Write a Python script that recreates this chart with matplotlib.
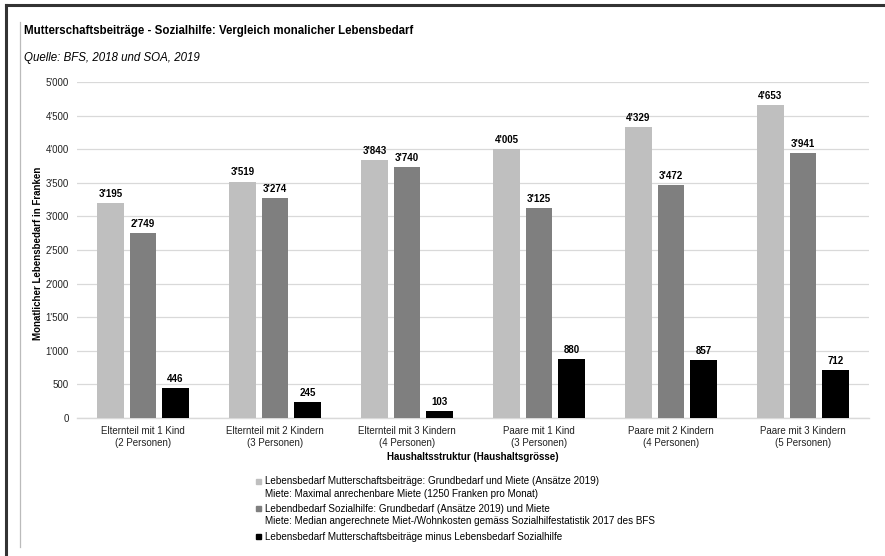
import matplotlib.pyplot as plt
import numpy as np
from matplotlib.patches import Rectangle
from matplotlib.lines import Line2D

plt.rcParams['font.family'] = ['Liberation Sans', 'DejaVu Sans']

categories = [
    "Elternteil mit 1 Kind\n(2 Personen)",
    "Elternteil mit 2 Kindern\n(3 Personen)",
    "Elternteil mit 3 Kindern\n(4 Personen)",
    "Paare mit 1 Kind\n(3 Personen)",
    "Paare mit 2 Kindern\n(4 Personen)",
    "Paare mit 3 Kindern\n(5 Personen)",
]
mutterschaft = [3195, 3519, 3843, 4005, 4329, 4653]
sozialhilfe = [2749, 3274, 3740, 3125, 3472, 3941]
differenz = [446, 245, 103, 880, 857, 712]

series_labels = [
    "Lebensbedarf Mutterschaftsbeiträge: Grundbedarf und Miete (Ansätze 2019)\n"
    "Miete: Maximal anrechenbare Miete (1250 Franken pro Monat)",
    "Lebendbedarf Sozialhilfe: Grundbedarf (Ansätze 2019) und Miete\n"
    "Miete: Median angerechnete Miet-/Wohnkosten gemäss Sozialhilfestatistik 2017 des BFS",
    "Lebensbedarf Mutterschaftsbeiträge minus Lebensbedarf Sozialhilfe",
]
colors = ["#BFBFBF", "#7F7F7F", "#000000"]

W, H = 885, 556
fig = plt.figure(figsize=(W / 100, H / 100), dpi=100)


def fx(px):
    return px / W


def fy(py):
    return 1 - py / H


# outer frame lines
fig.add_artist(Line2D([fx(6), fx(6)], [fy(5), fy(556)], color="#333333", lw=2.2))
fig.add_artist(Line2D([fx(6), fx(885)], [fy(5), fy(5)], color="#333333", lw=2.2))
fig.add_artist(Line2D([fx(19.5), fx(19.5)], [fy(22), fy(547)], color="#BBBBBB", lw=0.9))

fig.text(fx(24), fy(31), "Mutterschaftsbeiträge - Sozialhilfe: Vergleich monalicher Lebensbedarf",
         fontsize=8.3, fontweight="bold", va="center", ha="left")
fig.text(fx(24), fy(58), "Quelle: BFS, 2018 und SOA, 2019",
         fontsize=8.3, style="italic", va="center", ha="left")

ax = fig.add_axes([fx(77), fy(418), fx(869) - fx(77), fy(82) - fy(418)])
x = np.arange(len(categories))
width = 0.2
step = 0.247
for i, (vals, c) in enumerate(zip([mutterschaft, sozialhilfe, differenz], colors)):
    pos = x + (i - 1) * step
    ax.bar(pos, vals, width=width, color=c, zorder=3)
    for p, v in zip(pos, vals):
        ax.text(p, v + 60, f"{v:,}".replace(",", "'"), ha="center", va="bottom",
                fontsize=7, fontweight="bold")

ax.set_xlim(-0.5, len(categories) - 0.5)
ax.set_ylim(0, 5000)
ax.set_yticks(np.arange(0, 5001, 500))
ax.set_yticklabels([f"{v:,}".replace(",", "'") for v in range(0, 5001, 500)], fontsize=7)
ax.set_xticks(x)
ax.set_xticklabels(categories, fontsize=7, linespacing=1.15)
ax.tick_params(axis="both", length=0, colors="#222222")
ax.tick_params(axis="y", pad=6)
ax.tick_params(axis="x", pad=6)
ax.grid(axis="y", color="#D9D9D9", lw=0.9, zorder=0)
for s in ["top", "right", "left"]:
    ax.spines[s].set_visible(False)
ax.spines["bottom"].set_color("#D9D9D9")
ax.spines["bottom"].set_linewidth(1.0)

fig.text(fx(38), fy(253), "Monatlicher Lebensbedarf in Franken", rotation=90,
         fontsize=7, fontweight="bold", va="center", ha="center")
fig.text(fx(473), fy(457), "Haushaltsstruktur (Haushaltsgrösse)",
         fontsize=7, fontweight="bold", va="center", ha="center")

# legend entries
legend_y = [481, 508, 536]
for y, c, lab in zip(legend_y, colors, series_labels):
    fig.add_artist(Rectangle((fx(256), fy(y + 2.5)), 5 / W, 5 / H, color=c,
                             transform=fig.transFigure))
    fig.text(fx(265), fy(y - 4.5), lab, fontsize=7.1, va="top", ha="left", linespacing=1.3)

fig.savefig("out.png", dpi=100)
